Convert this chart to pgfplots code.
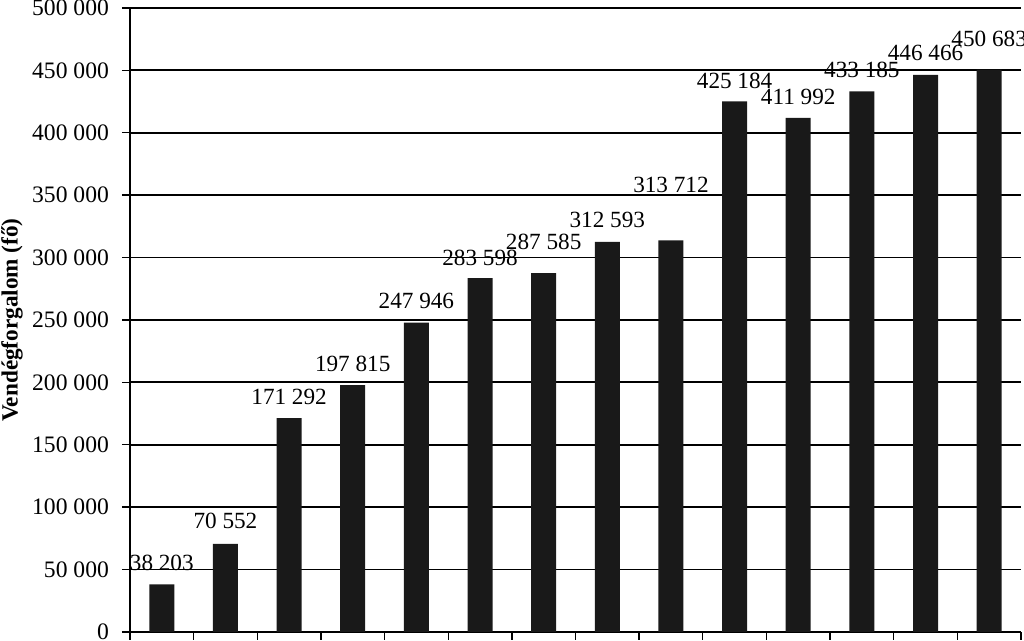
\documentclass[border=0pt]{standalone}
\usepackage{fontspec}
\setmainfont{Liberation Serif}
\usepackage{pgfplots}
\usepackage{pgfplotstable}
\pgfplotsset{compat=1.18}
\usetikzlibrary{calc}
\pgfplotstableread{
x y off
1 38203 10.5
2 70552 11.5
3 171292 10.5
4 197815 10.5
5 247946 11
6 283598 10
7 287585 15.5
8 312593 11
9 313712 28
10 425184 10
11 411992 10.5
12 433185 10.5
13 446466 11
14 450683 15.5
}\datatable
\begin{document}
\fontsize{11.6}{13.9}\selectfont
\begin{tikzpicture}
\begin{axis}[name=ax, scale only axis, width=445.5pt, height=312pt,
  xmin=0.5, xmax=14.5, ymin=0, ymax=500000,
  axis x line*=bottom, axis y line*=left,
  axis line style={line width=0.9pt,-},
  ytick={0,50000,...,500000},
  xtick={0.5,1.5,...,14.5}, xticklabels={},
  ymajorgrids, grid style={black, line width=0.9pt},
  tick style={black, line width=0.7pt}, tick align=outside,
  major tick length=4pt,
  scaled y ticks=false,
  /pgf/number format/assume math mode=true,
  /pgf/number format/fixed,
  /pgf/number format/precision=0,
  /pgf/number format/1000 sep={\ },
  yticklabel style={font=\fontsize{11.8}{14}\selectfont, xshift=-2.5pt},
  ylabel={\bfseries Vendégforgalom (fő)},
  ylabel style={at={(axis description cs:0,0.5)}, anchor=center, yshift=59pt, font=\fontsize{11.6}{13.9}\selectfont},
]
\addplot[ybar, bar width=12.5pt, fill=black!90, draw=none,
  nodes near coords,
  visualization depends on={\thisrow{off} \as \off},
  every node near coord/.append style={anchor=center, yshift=\off pt, black, font=\fontsize{11.6}{13.9}\selectfont}]
  table[x=x,y=y]{\datatable};
\end{axis}
\pgfresetboundingbox
\path ($(ax.south west)+(-65pt,-4.5pt)$) rectangle ($(ax.north east)+(1.5pt,4pt)$);
\end{tikzpicture}
\end{document}
